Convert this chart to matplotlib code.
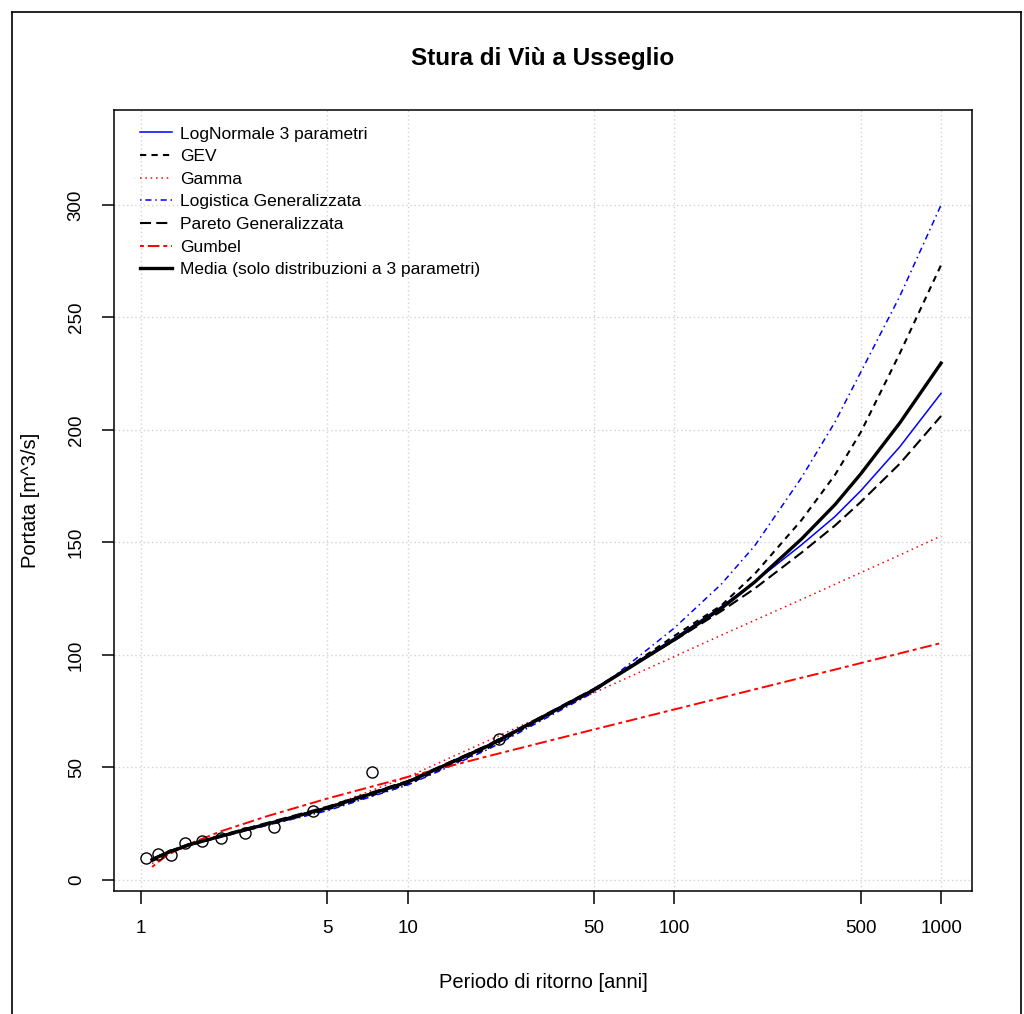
import numpy as np
import matplotlib.pyplot as plt
from matplotlib.lines import Line2D

plt.rcParams['font.family'] = ['Liberation Sans', 'DejaVu Sans']

# return periods (anni) at which the fitted curves are read
T = [1.1, 1.25, 1.5, 2, 3, 5, 10, 20, 50, 100, 150, 200, 300, 400, 500, 700, 1000]

q_ln3 = [9.2, 12.3, 15.7, 19.7, 25.2, 32.3, 43.9, 60.0, 85.0, 107.5, 121.5, 132.5, 149.0, 161.5, 173.0, 192.5, 216.3]
q_gev = [8.3, 11.8, 15.3, 19.2, 24.6, 31.3, 42.6, 58.6, 84.2, 108.5, 122.0, 136.0, 160.0, 180.0, 199.0, 234.0, 273.3]
q_gamma = [7.3, 11.2, 15.0, 19.3, 25.2, 32.4, 45.8, 61.9, 83.2, 99.3, 108.8, 115.4, 124.7, 131.4, 136.6, 144.4, 152.9]
q_glo = [9.2, 12.2, 15.5, 19.2, 24.4, 30.8, 42.2, 58.0, 83.5, 112.0, 131.5, 148.5, 178.9, 203.5, 225.7, 259.4, 300.0]
q_gpa = [9.3, 12.4, 15.8, 19.9, 25.5, 32.6, 44.0, 60.0, 85.0, 106.5, 119.5, 129.5, 145.5, 157.5, 168.0, 185.0, 206.2]
q_gumbel = [5.8, 10.9, 15.8, 21.7, 28.5, 36.2, 45.8, 55.0, 66.9, 75.8, 81.0, 84.7, 89.9, 93.5, 96.4, 100.7, 105.3]
q_media = [9.0, 12.0, 15.5, 19.5, 25.0, 32.0, 43.5, 59.5, 84.5, 106.8, 120.7, 132.4, 151.6, 166.8, 180.5, 203.1, 229.7]

# observed maxima (Hazen plotting positions)
T_obs = [1.048, 1.158, 1.294, 1.467, 1.692, 2.0, 2.444, 3.143, 4.4, 7.333, 22.0]
Q_obs = [9.6, 11.6, 11.2, 16.3, 17.3, 18.8, 20.8, 23.7, 30.7, 48.2, 62.8]

xticks = [1, 5, 10, 50, 100, 500, 1000]
yticks = [0, 50, 100, 150, 200, 250, 300]

fig = plt.figure(figsize=(10.24, 10.14), dpi=100)
ax = fig.add_axes([114/1024, 123/1014, 858/1024, 781/1014])

ax.set_xscale('log')
ax.set_xlim(0.792, 1306)
ax.set_ylim(-4.9, 342.2)

for x in xticks:
    ax.axvline(x, color='#d3d3d3', lw=1.0, ls=(0, (1, 2)), zorder=0)
for y in yticks:
    ax.axhline(y, color='#d3d3d3', lw=1.0, ls=(0, (1, 2)), zorder=0)

ax.plot(T_obs, Q_obs, 'o', mfc='none', mec='black', ms=8, mew=1.0, zorder=3)

ax.plot(T, q_ln3, color='blue', lw=1.1, ls='-', label='LogNormale 3 parametri')
ax.plot(T, q_gev, color='black', lw=1.5, ls=(0, (3, 2.5)), label='GEV')
ax.plot(T, q_gamma, color='red', lw=1.1, ls=(0, (1, 2.5)), label='Gamma')
ax.plot(T, q_glo, color='blue', lw=1.1, ls=(0, (1, 2.5, 4, 2.5)), label='Logistica Generalizzata')
ax.plot(T, q_gpa, color='black', lw=1.5, ls=(0, (5.3, 2.5)), label='Pareto Generalizzata')
ax.plot(T, q_gumbel, color='red', lw=1.4, ls=(0, (2, 2, 6, 2)), label='Gumbel')
ax.plot(T, q_media, color='black', lw=2.4, ls='-', label='Media (solo distribuzioni a 3 parametri)')

ax.legend(loc='upper left', bbox_to_anchor=(0.0303, 0.979), frameon=False,
          borderpad=0, borderaxespad=0, handlelength=1.85, handletextpad=0.45,
          labelspacing=0.43, fontsize=12.5)

ax.set_xticks(xticks)
ax.set_xticklabels([str(v) for v in xticks])
ax.minorticks_off()
ax.set_yticks(yticks)
ax.set_yticklabels([str(v) for v in yticks], rotation=90, va='center')
ax.tick_params(axis='both', length=9, width=1.1, labelsize=13.5, pad=12)
for s in ax.spines.values():
    s.set_linewidth(1.1)

fig.text(543/1024, 1 - 58/1014, 'Stura di Viù a Usseglio', ha='center', va='center',
         fontsize=17.5, fontweight='bold')
fig.text(543/1024, 1 - 982/1014, 'Periodo di ritorno [anni]', ha='center', va='center', fontsize=14.5)
fig.text(30/1024, 1 - 500/1014, 'Portata [m^3/s]', ha='center', va='center', rotation=90, fontsize=14.5)

# outer frame of the screenshot
fig.add_artist(Line2D([12/1024, 12/1024], [0, 1 - 12/1014], color='black', lw=1.2, transform=fig.transFigure))
fig.add_artist(Line2D([12/1024, 1021/1024], [1 - 12/1014, 1 - 12/1014], color='black', lw=1.2, transform=fig.transFigure))
fig.add_artist(Line2D([1021/1024, 1021/1024], [0, 1 - 12/1014], color='black', lw=1.2, transform=fig.transFigure))

fig.savefig('out.png', dpi=100)
